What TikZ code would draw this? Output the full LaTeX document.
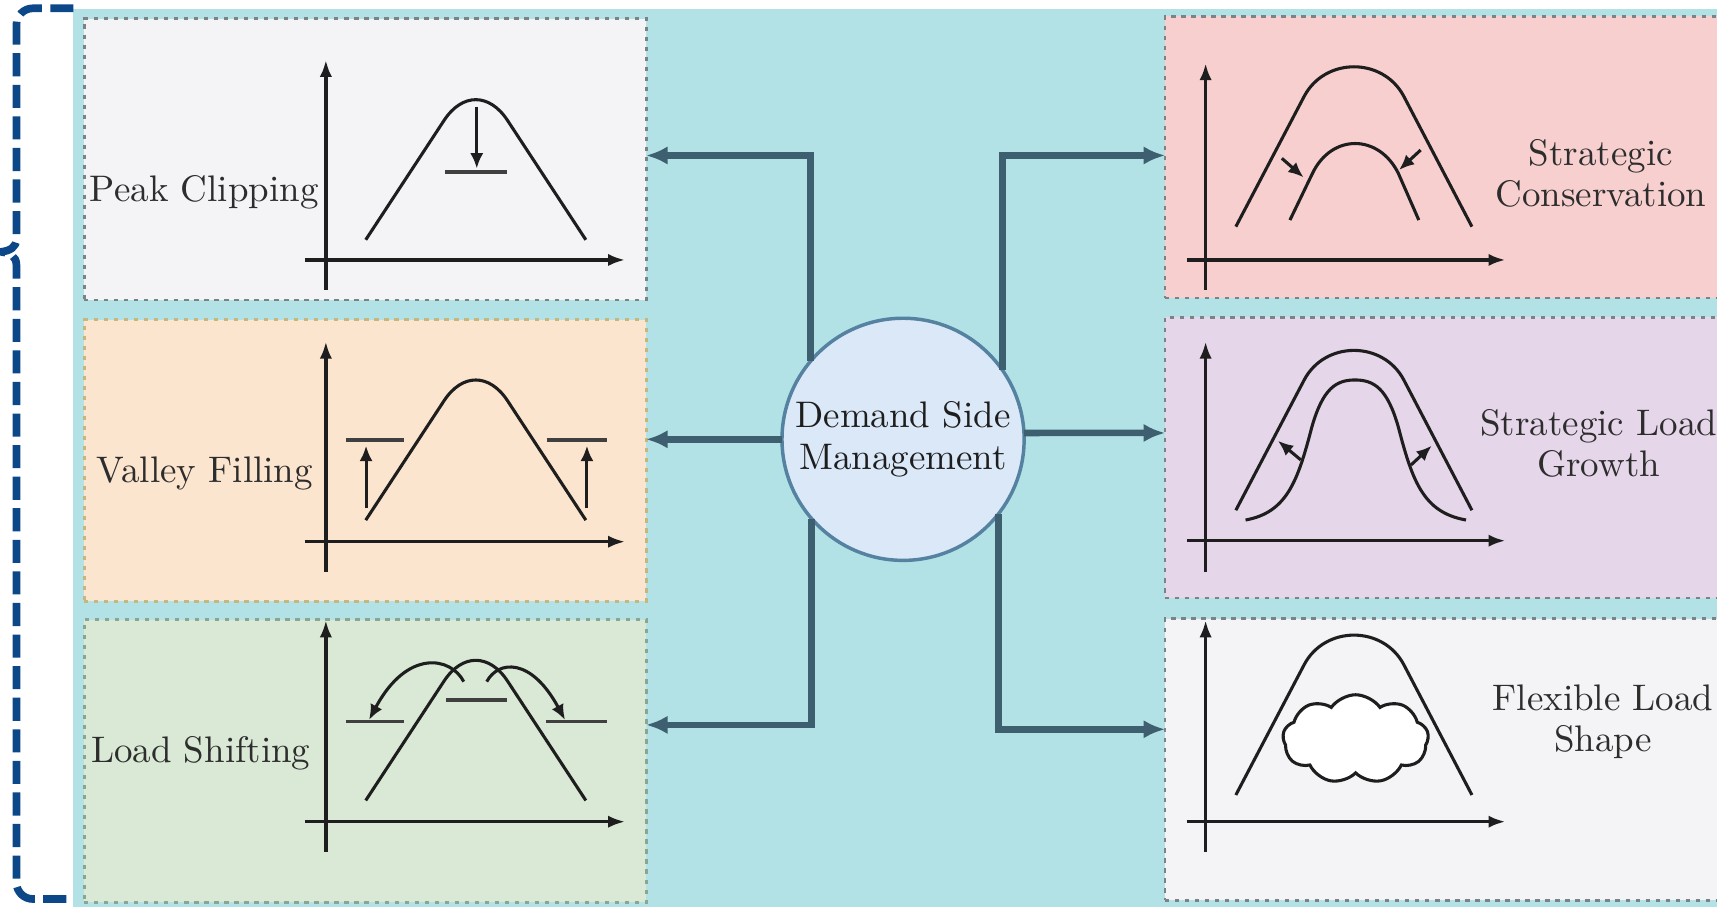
\documentclass[tikz,border=0pt]{standalone}
\usetikzlibrary{arrows.meta,shapes.symbols,calc}
\definecolor{tealbg}{RGB}{178,226,230}
\definecolor{fillA}{RGB}{244,244,246}
\definecolor{fillB}{RGB}{252,229,206}
\definecolor{fillC}{RGB}{217,233,213}
\definecolor{fillD}{RGB}{247,207,207}
\definecolor{fillE}{RGB}{229,214,233}
\definecolor{bordA}{RGB}{125,130,135}
\definecolor{bordB}{RGB}{196,184,128}
\definecolor{bordC}{RGB}{140,165,145}
\definecolor{dsmfill}{RGB}{219,232,248}
\definecolor{dsmbord}{RGB}{84,130,160}
\definecolor{connc}{RGB}{62,95,112}
\definecolor{brkc}{RGB}{12,72,136}
\definecolor{ink}{RGB}{30,30,30}
\definecolor{txt}{RGB}{45,45,45}
\newcommand{\drawLpeak}[1]{%
  \begin{scope}[shift={(0,#1)}]
    \draw[crv] (334,219) -- (405.5,110) .. controls (422.1,84.7) and (446.9,84.7) .. (463.5,110) -- (535,219);
  \end{scope}}
\newcommand{\drawRpeak}[1]{%
  \begin{scope}[shift={(0,#1)}]
    \draw[crv] (1128.6,207) -- (1191,88) .. controls (1210,52) and (1263,52) .. (1282,88) -- (1344.2,207);
  \end{scope}}
\begin{document}
\begin{tikzpicture}[x=0.01cm,y=-0.01cm,
  box/.style={draw=bordA, dash pattern=on 1.1pt off 1.5pt, line width=0.7pt,
    inner sep=0pt, outer sep=0pt, minimum width=5.13cm, minimum height=2.57cm},
  rbox/.style={box, minimum width=5.16cm},
  conn/.style={draw=connc, line width=1.7pt, -{Latex[length=5.6pt,width=4.8pt]}},
  ax/.style={draw=ink, line width=0.85pt, -{Latex[length=4.4pt,width=3.2pt]}},
  crv/.style={draw=ink, line width=0.8pt},
  sarr/.style={draw=ink, line width=0.8pt, -{Latex[length=4pt,width=3.4pt]}},
  hbar/.style={draw=ink!85, line width=0.95pt},
  lbl/.style={text=txt, font=\fontsize{9.6}{10.7}\selectfont, inner sep=0pt, align=center},
  brk/.style={draw=brkc, line width=2pt, dash pattern=on 6pt off 2.2pt}]
\useasboundingbox (0,0) rectangle (1568,828);
\clip (0,0) rectangle (1568,828);
\fill[white] (0,0) rectangle (1568,828);
\fill[tealbg] (67,8.5) rectangle (1600,850);

% left bracket
\draw[brk] (67,7.6) [rounded corners=0.15cm] -- (15,7.6) -- (15,60) [sharp corners] -- (15,218)
  .. controls (15,226) and (9,229) .. (1,230) .. controls (9,231) and (15,234) .. (15,242)
  -- (15,780) [rounded corners=0.15cm] -- (15,821) -- (67,821);

% boxes
\node[box, fill=fillA] (pc) at (333.5,145.5) {};
\node[box, fill=fillB, draw=bordB] (vf) at (333.5,420.5) {};
\node[box, fill=fillC, draw=bordC, minimum height=2.58cm] (ls) at (333.5,695) {};
\node[rbox, fill=fillD] (sc) at (1322,143.5) {};
\node[rbox, fill=fillE, minimum height=2.56cm] (slg) at (1322,418) {};
\node[rbox, fill=fillA] (fls) at (1322,693.5) {};

% centre
\node[circle, draw=dsmbord, fill=dsmfill, line width=0.9pt, minimum size=2.21cm,
  inner sep=0pt, outer sep=0pt, lbl, text=ink] (dsm) at (824.7,401.2) {Demand Side\\Management};

% connectors
\coordinate (pcin) at (590,142);
\coordinate (vfin) at (590,401.2);
\coordinate (lsin) at (590,662);
\coordinate (scin) at (1064,142);
\coordinate (slgin) at (1064,395.4);
\coordinate (flsin) at (1064,666);
\draw[conn] (dsm.140) |- (pcin);
\draw[conn] (dsm.west) -- (vfin);
\draw[conn] (dsm.221) |- (lsin);
\draw[conn] (dsm.35) |- (scin);
\draw[conn] (dsm.3) -- (slgin);
\draw[conn] (dsm.-38) |- (flsin);

% labels
\node[lbl] (tpc) at (186.5,176) {Peak Clipping};
\node[lbl] (tvf) at (187,432) {Valley Filling};
\node[lbl] (tls) at (183.3,687.8) {Load Shifting};
\node[lbl] (tsc) at (1462,158.3) {Strategic\\Conservation};
\node[lbl] (tslg) at (1460,404.8) {Strategic Load\\Growth};
\node[lbl] (tfls) at (1464,659) {Flexible Load\\Shape};

% graph 1: peak clipping
\draw[ax] (297.6,264.8) -- (297.6,54.8);
\draw[ax] (278.5,237.4) -- (570.8,237.4);
\drawLpeak{0}
\draw[sarr] (435.4,98) -- (435.4,154);
\draw[hbar] (406.5,156.8) -- (462.7,156.8);

% graph 2: valley filling
\draw[ax] (297.6,522) -- (297.6,312);
\draw[ax] (278.5,494.7) -- (570.8,494.7);
\drawLpeak{256}
\draw[hbar] (316,401.8) -- (369,401.8);
\draw[hbar] (499.4,401.8) -- (554.5,401.8);
\draw[sarr] (334.3,464.2) -- (334.3,407);
\draw[sarr] (536,464.2) -- (536,407);

% graph 3: load shifting
\draw[ax] (297.6,777.8) -- (297.6,566.5);
\draw[ax] (278.5,750.4) -- (570.8,750.4);
\drawLpeak{512}
\draw[hbar] (407.5,639) -- (462.7,639);
\draw[hbar] (316,659) -- (369,659);
\draw[hbar] (499,659) -- (554.5,659);
\draw[sarr] (423.5,622.5) .. controls (412,600) and (372,592) .. (337,657.5);
\draw[sarr] (444.5,622.5) .. controls (455,603) and (485,600) .. (516,657.5);

% graph 4: strategic conservation
\draw[ax] (1101,264.8) -- (1101,57.8);
\draw[ax] (1083.7,237.4) -- (1374.8,237.4);
\drawRpeak{0}
\draw[crv] (1178,201) -- (1198.6,158.3) .. controls (1216,122) and (1259,122) .. (1277,158.3) -- (1295.7,201);
\draw[sarr] (1170.6,144.6) -- (1190.5,162);
\draw[sarr] (1297.4,137) -- (1277.6,155.3);

% graph 5: strategic load growth
\draw[ax] (1101,522) -- (1101,312);
\draw[ax] (1083.7,493.8) -- (1374.8,493.8);
\drawRpeak{259}
\draw[crv] (1137.5,474.9) .. controls (1175,468) and (1185,440) .. (1198,390)
  .. controls (1208,355) and (1220,347) .. (1237.4,347)
  .. controls (1255,347) and (1267,355) .. (1277,390)
  .. controls (1290,440) and (1300,468) .. (1338.8,474.9);
\draw[sarr] (1187.9,420) -- (1167,402.5);
\draw[sarr] (1288.5,424.7) -- (1307.5,407);

% graph 6: flexible load shape
\draw[ax] (1101,777.8) -- (1101,566.5);
\draw[ax] (1083.7,750.4) -- (1374.8,750.4);
\drawRpeak{519}
\node[cloud, cloud puffs=9, cloud puff arc=110, aspect=1.6, draw=ink, fill=white,
  line width=0.8pt, minimum width=1.33cm, minimum height=0.81cm, inner sep=0pt] (cl) at (1238,675) {};
\end{tikzpicture}
\end{document}
